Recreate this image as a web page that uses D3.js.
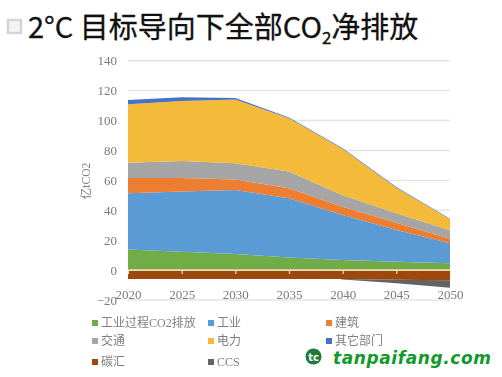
<!DOCTYPE html>
<html>
<head>
<meta charset="utf-8">
<script src="https://cdn.jsdelivr.net/npm/d3@7"></script>
<style>
  html, body { margin: 0; padding: 0; background: #fff; }
  svg { display: block; }
  .soft { filter: blur(0.55px); }
  .cn { font-family: "Liberation Serif", "Noto Sans CJK SC", serif; fill: #7f7f7f; }
  .axis path { display: none; }
  .axis text { font-family: "Liberation Serif", serif; font-size: 13px; fill: #7a7a7a; }
</style>
</head>
<body>
<svg id="chart" width="502" height="377"></svg>
<script>
// unit: 亿tCO2, each array is the thickness of one layer
const years = [2020, 2025, 2030, 2035, 2040, 2045, 2050];
const yTicks = [-20, 0, 20, 40, 60, 80, 100, 120, 140];
const process = [13.8, 12.2, 10.7, 8.5, 6.7, 5.5, 4.5];
const industry = [37.5, 40.3, 42.8, 39.5, 30.1, 21.3, 13.5];
const building = [10.2, 9, 7, 6.8, 5.5, 4.8, 3];
const transport = [10.3, 11.5, 11, 11.2, 7.7, 6.4, 5.6];
const power = [39, 40, 42.5, 35.5, 31, 17, 7.4];
const other = [2.9, 2.5, 1, 0.5, 0.5, 0.5, 0.3];
const sink = [-6, -6, -6, -6, -6, -6.5, -6.8];
const ccs = [0, 0, 0, 0, -0.3, -2.3, -5];

const names = ["工业过程CO2排放", "工业", "建筑", "交通", "电力", "其它部门", "碳汇", "CCS"];
const colors = ["#70ad47", "#5b9bd5", "#ed7d31", "#a5a5a5", "#f4ba3a", "#4472c4", "#9e480e", "#636363"];
const series = [process, industry, building, transport, power, other, sink, ccs];

const rows = years.map((yr, i) => {
  const r = { year: yr };
  names.forEach((n, k) => { r[n] = series[k][i]; });
  return r;
});

const svg = d3.select("#chart");
const x = d3.scaleLinear().domain([2020, 2050]).range([128, 450]);
const y = d3.scaleLinear().domain([-20, 140]).range([300, 60.7]);

const plot = svg.append("g").attr("class", "soft");

// gridlines
plot.append("g").selectAll("line").data(yTicks).join("line")
  .attr("x1", x(2020)).attr("x2", x(2050))
  .attr("y1", (d) => y(d)).attr("y2", (d) => y(d))
  .attr("stroke", "#e4e4e4").attr("stroke-width", 1.4);

// stacked areas, negatives go down from zero
const stacked = d3.stack().keys(names).offset(d3.stackOffsetDiverging)(rows);
const area = d3.area()
  .x((d) => x(d.data.year))
  .y0((d) => y(d[0]))
  .y1((d) => y(d[1]));
plot.append("g").selectAll("path").data(stacked).join("path")
  .attr("d", area)
  .attr("fill", (d, i) => colors[i]);

// y axis labels
plot.append("g").attr("class", "axis")
  .attr("transform", `translate(${x(2020) - 11},0)`)
  .call(d3.axisLeft(y).tickValues(yTicks).tickSize(0).tickPadding(0));

// zero line with the year labels hanging well under it
const xAxis = plot.append("g").attr("class", "axis")
  .attr("transform", `translate(0,${y(0)})`)
  .call(d3.axisBottom(x).tickValues(years).tickFormat(d3.format("d")).tickSize(4).tickPadding(16));
xAxis.selectAll("line").attr("stroke", "#efe0c8").attr("stroke-width", 1.2);
plot.append("line")
  .attr("x1", x(2020)).attr("x2", x(2050))
  .attr("y1", y(0)).attr("y2", y(0))
  .attr("stroke", "#efd9b8").attr("stroke-width", 1.6);

// y title
plot.append("text").attr("class", "cn")
  .attr("transform", "translate(90,181) rotate(-90)")
  .attr("text-anchor", "middle")
  .attr("font-size", 11.5)
  .text("亿tCO2");

// legend, three rows and three columns
const legendX = d3.scaleOrdinal().domain([0, 1, 2]).range([92, 208, 326]);
const legendY = d3.scaleOrdinal().domain([0, 1, 2]).range([323, 341, 362]);
const legend = plot.append("g").selectAll("g").data(names).join("g")
  .attr("transform", (d, i) => `translate(${legendX(i % 3)},${legendY(Math.floor(i / 3))})`);
legend.append("rect")
  .attr("x", 0).attr("y", -3).attr("width", 6).attr("height", 6)
  .attr("fill", (d, i) => colors[i]);
legend.append("text").attr("class", "cn")
  .attr("x", 9).attr("dy", "0.36em")
  .attr("font-size", 12)
  .text((d) => d);

// title
svg.append("rect")
  .attr("x", 8).attr("y", 20).attr("width", 13).attr("height", 13)
  .attr("fill", "#f4f4f4").attr("stroke", "#d4d4d4").attr("stroke-width", 2.4);
const title = svg.append("text")
  .attr("x", 28).attr("y", 38)
  .attr("font-family", "'Noto Sans CJK SC', sans-serif")
  .attr("font-size", 29).attr("fill", "#111")
  .attr("stroke", "#111").attr("stroke-width", 0.3);
title.append("tspan").text("2°C 目标导向下全部CO");
title.append("tspan").attr("font-size", 17).attr("dy", 6).text("2");
title.append("tspan").attr("dy", -6).text("净排放");

// site mark, bottom right
svg.append("circle").attr("cx", 313.5).attr("cy", 356.5).attr("r", 8).attr("fill", "#1d7a3a");
svg.append("text")
  .attr("x", 313.5).attr("y", 360.5).attr("text-anchor", "middle")
  .attr("font-family", "'DejaVu Sans', sans-serif").attr("font-weight", "bold")
  .attr("font-size", 10).attr("fill", "#fff").text("tc");
svg.append("text")
  .attr("x", 333).attr("y", 364)
  .attr("font-family", "'DejaVu Sans', sans-serif").attr("font-weight", "bold")
  .attr("font-style", "italic")
  .attr("font-size", 17).attr("letter-spacing", 0.6).attr("fill", "#109a2a")
  .text("tanpaifang.com");
</script>
</body>
</html>
